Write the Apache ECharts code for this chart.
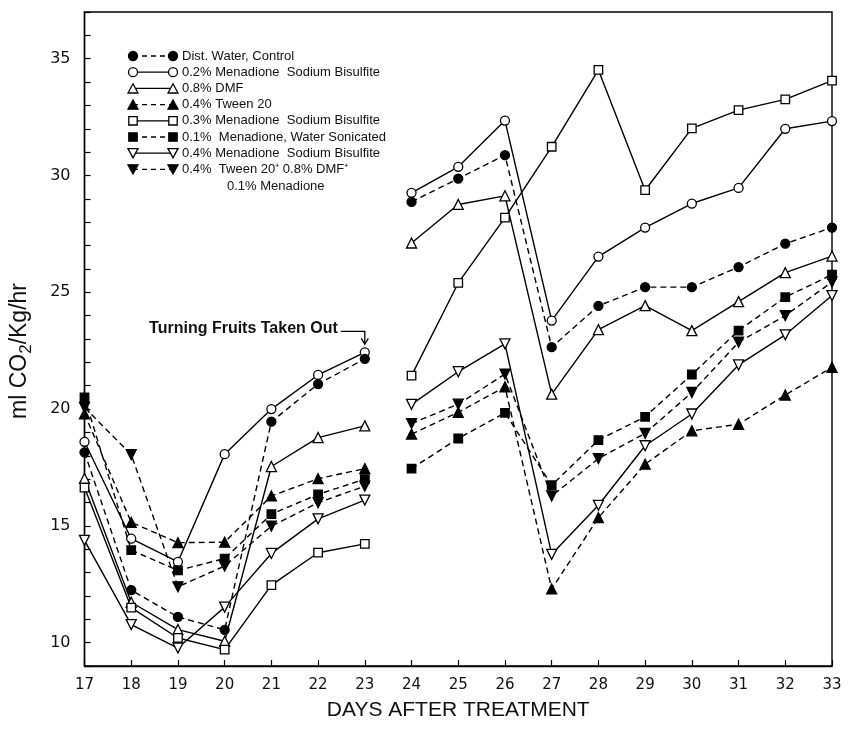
<!DOCTYPE html>
<html>
<head>
<meta charset="utf-8">
<script src="https://cdn.jsdelivr.net/npm/echarts@6/dist/echarts.min.js"></script>
<style>
html,body{margin:0;padding:0;background:#fff;}
#main{width:848px;height:729px;}
</style>
</head>
<body>
<div id="main"></div>
<script>
// ---- data (days 17..33; gap between 23 and 24) ----
const days = [17,18,19,20,21,22,23,24,25,26,27,28,29,30,31,32,33];
const seriesNames = [
  'Dist. Water, Control',
  '0.2% Menadione  Sodium Bisulfite',
  '0.8% DMF',
  '0.4% Tween 20',
  '0.3% Menadione  Sodium Bisulfite',
  '0.1%  Menadione, Water Sonicated',
  '0.4% Menadione  Sodium Bisulfite',
  '0.4%  Tween 20\u207A 0.8% DMF\u207A'
];
const legendExtraLine = '0.1% Menadione';
const controlWater   = [18.15,12.25,11.1,10.55,19.46,21.07,22.15, 28.87,29.87,30.87,22.65,24.42,25.22,25.22,26.08,27.08,27.77];
const menadione02SB  = [18.6,14.45,13.46,18.07,20.0,21.46,22.43, 29.26,30.37,32.35,23.79,26.53,27.77,28.8,29.47,32.0,32.33];
const dmf08          = [17.03,11.73,10.56,10.06,17.54,18.78,19.28, 27.11,28.76,29.13,20.64,23.4,24.43,23.36,24.6,25.84,26.55];
const tween04        = [19.8,15.15,14.28,14.3,16.28,17.02,17.45, 18.93,19.86,20.95,12.3,15.35,17.64,19.07,19.35,20.6,21.79];
const menadione03SB  = [16.64,11.5,10.2,9.7,12.46,13.85,14.23, 21.43,25.4,28.2,31.23,34.52,29.37,32.02,32.8,33.26,34.06];
const menadione01Son = [20.5,13.96,13.09,13.6,15.5,16.35,17.0, 17.45,18.74,19.84,16.74,18.67,19.67,21.48,23.36,24.79,25.75];
const menadione04SB  = [14.38,10.77,9.77,11.52,13.82,15.3,16.1, 20.2,21.6,22.79,13.78,15.88,18.43,19.79,21.89,23.18,24.86];
const tweenDmfMen    = [20.07,18.05,12.39,13.28,14.99,15.99,16.7, 19.38,20.21,21.5,16.28,17.88,18.96,20.71,22.86,24.0,25.44];
const gapAfterDay = 23;
const yTickLabels = [10,15,20,25,30,35];
const annotationText = 'Turning Fruits Taken Out';

const allValues = [controlWater, menadione02SB, dmf08, tween04, menadione03SB, menadione01Son, menadione04SB, tweenDmfMen];
// marker spec: [symbol, filled, rotate]
const markers = [
  ['circle', true, 0], ['circle', false, 0], ['triangle', false, 0], ['triangle', true, 0],
  ['rect', false, 0], ['rect', true, 0], ['triangle', false, 180], ['triangle', true, 180]
];

function buildData(vals) {
  const out = [];
  days.forEach((d, i) => {
    out.push([d, vals[i]]);
    if (d === gapAfterDay) out.push([d + 0.5, '-']);
  });
  return out;
}

const chart = echarts.init(document.getElementById('main'), null, {renderer: 'canvas'});

const series = allValues.map((vals, k) => {
  const [sym, filled, rot] = markers[k];
  return {
    name: seriesNames[k],
    type: 'line',
    data: buildData(vals),
    connectNulls: false,
    symbol: sym,
    symbolRotate: rot,
    symbolSize: sym === 'circle' ? 9 : (sym === 'rect' ? 8.5 : 10),
    showAllSymbol: true,
    lineStyle: {color: '#000', width: 1.4, type: filled ? [6, 4] : 'solid'},
    itemStyle: {color: filled ? '#000' : '#fff', borderColor: '#000', borderWidth: 1.3},
    emphasis: {disabled: true},
    animation: false,
    z: filled ? 3 : 2
  };
});

const baseFont = 'DejaVu Sans';
chart.setOption({
  animation: false,
  backgroundColor: '#fff',
  grid: {left: 83, right: 16, top: 12, bottom: 63, show: true, borderColor: '#000', borderWidth: 1.4, backgroundColor: 'transparent'},
  xAxis: {
    type: 'value', min: 17, max: 33, interval: 1,
    name: 'DAYS AFTER TREATMENT', nameLocation: 'middle', nameGap: 34,
    nameTextStyle: {fontFamily: 'Liberation Sans', fontSize: 21, color: '#111'},
    axisLine: {show: true, lineStyle: {color: '#000', width: 1.4}},
    axisTick: {show: true, inside: true, length: 6, lineStyle: {color: '#000', width: 1.2}},
    axisLabel: {fontFamily: baseFont, fontSize: 15, color: '#111', margin: 12},
    splitLine: {show: false}
  },
  yAxis: {
    type: 'value', min: 9, max: 37, interval: 1,
    name: 'ml CO{s|2}/Kg/hr', nameLocation: 'middle', nameGap: 50,
    nameTextStyle: {fontFamily: 'Liberation Sans', fontSize: 23, color: '#111', padding: [0, 24, 0, 0],
      rich: {s: {fontFamily: 'Liberation Sans', fontSize: 17, color: '#111', padding: [13, 0, 0, 0]}}},
    axisLine: {show: true, lineStyle: {color: '#000', width: 1.4}},
    axisTick: {show: true, inside: true, length: 6, lineStyle: {color: '#000', width: 1.2}},
    axisLabel: {fontFamily: baseFont, fontSize: 16, color: '#111', margin: 14,
      formatter: v => (yTickLabels.indexOf(v) >= 0 ? String(v) : '')},
    splitLine: {show: false}
  },
  series: series
});

// ---- legend drawn as graphics (symbol - line - symbol + label) ----
function markerGraphic(k, cx, cy) {
  const [sym, filled, rot] = markers[k];
  const style = {fill: filled ? '#000' : '#fff', stroke: '#000', lineWidth: 1.3};
  if (sym === 'circle') return {type: 'circle', shape: {cx: cx, cy: cy, r: 4.5}, style: style, z: 10};
  if (sym === 'rect') return {type: 'rect', shape: {x: cx - 4.2, y: cy - 4.2, width: 8.4, height: 8.4}, style: style, z: 10};
  const h = 4.6;
  const pts = rot === 180
    ? [[cx - 5, cy - h], [cx + 5, cy - h], [cx, cy + h]]
    : [[cx - 5, cy + h], [cx + 5, cy + h], [cx, cy - h]];
  return {type: 'polygon', shape: {points: pts}, style: style, z: 10};
}
const legendGraphics = [];
const lx1 = 133, lx2 = 173, ltx = 182, ly0 = 56, lstep = 16.2;
seriesNames.forEach((nm, k) => {
  const y = ly0 + k * lstep;
  const filled = markers[k][1];
  legendGraphics.push({type: 'line', shape: {x1: lx1, y1: y, x2: lx2, y2: y},
    style: {stroke: '#000', lineWidth: 1.3, lineDash: filled ? [5, 4] : null}, z: 9});
  legendGraphics.push(markerGraphic(k, lx1, y));
  legendGraphics.push(markerGraphic(k, lx2, y));
  legendGraphics.push({type: 'text', x: ltx, y: y, z: 10,
    style: {text: nm, fontFamily: 'Liberation Sans', fontSize: 13, fill: '#111', verticalAlign: 'middle', align: 'left'}});
});
legendGraphics.push({type: 'text', x: 227, y: ly0 + seriesNames.length * lstep + 1, z: 10,
  style: {text: legendExtraLine, fontFamily: 'Liberation Sans', fontSize: 13, fill: '#111', verticalAlign: 'middle', align: 'left'}});

// ---- annotation anchored at the day-23 point ----
const p = chart.convertToPixel({gridIndex: 0}, [gapAfterDay, menadione02SB[days.indexOf(gapAfterDay)]]);
const ay = p[1] - 21;
legendGraphics.push({type: 'text', x: p[0] - 27, y: p[1] - 24, z: 10,
  style: {text: annotationText, fontFamily: 'Liberation Sans', fontSize: 16, fontWeight: 'bold', fill: '#111', align: 'right', verticalAlign: 'middle'}});
legendGraphics.push({type: 'polyline', shape: {points: [[p[0] - 24, ay], [p[0], ay], [p[0], p[1] - 9]]},
  style: {stroke: '#000', lineWidth: 1.3, fill: null}, z: 10});
legendGraphics.push({type: 'polyline', shape: {points: [[p[0] - 3.5, p[1] - 14], [p[0], p[1] - 8], [p[0] + 3.5, p[1] - 14]]},
  style: {stroke: '#000', lineWidth: 1.3, fill: null}, z: 10});

chart.setOption({graphic: {elements: legendGraphics}});
</script>
</body>
</html>
